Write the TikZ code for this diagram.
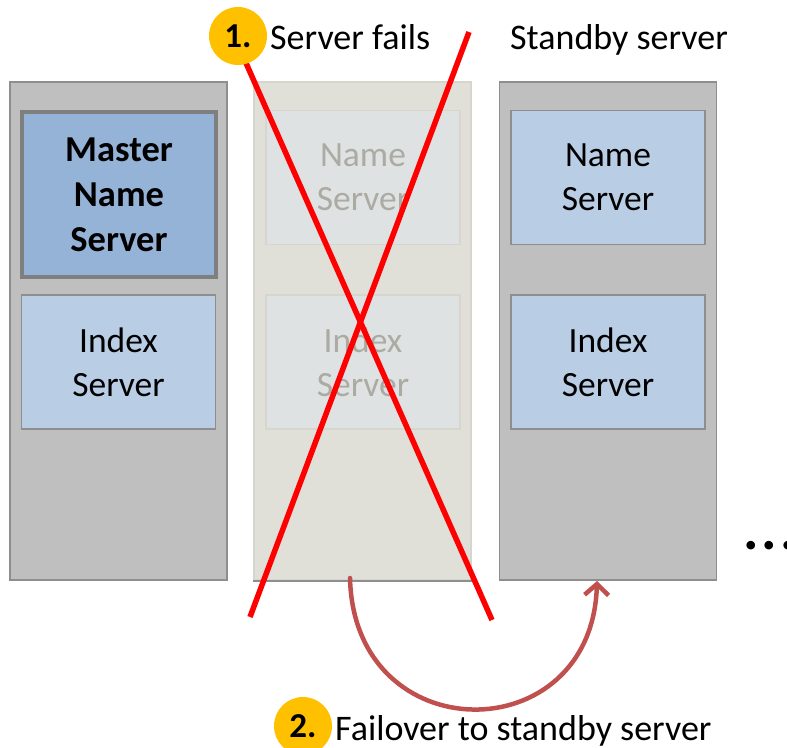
\documentclass[tikz,border=0pt]{standalone}
\usepackage{fontspec}
\setmainfont{Carlito}
\usetikzlibrary{arrows.meta}
\definecolor{colgray}{HTML}{BFBFBF}
\definecolor{colborder}{HTML}{8E8E8E}
\definecolor{masterfill}{HTML}{95B3D7}
\definecolor{masterborder}{HTML}{7F7F7F}
\definecolor{boxfill}{HTML}{B9CDE5}
\definecolor{deadcol}{HTML}{E0E0D9}
\definecolor{deadborder}{HTML}{D6D6CE}
\definecolor{deadbox}{HTML}{DEE2E2}
\definecolor{deadtext}{HTML}{ABABA3}
\definecolor{failred}{HTML}{FF0000}
\definecolor{arrowred}{HTML}{C0504D}
\definecolor{badge}{HTML}{FFC000}
\tikzset{
  column/.style={draw=colborder, fill=colgray, line width=1.5pt, minimum width=217pt, minimum height=498pt, inner sep=0pt},
  deadcolumn/.style={draw=deadborder, fill=deadcol, line width=1.5pt, minimum width=217pt, minimum height=498pt, inner sep=0pt},
  srvbox/.style={draw=colborder, fill=boxfill, line width=1.5pt, minimum width=194pt, minimum height=134pt, inner sep=0pt, align=center, font=\fontsize{35.5}{44}\selectfont},
  masterbox/.style={srvbox, draw=masterborder, fill=masterfill, line width=3.5pt, minimum height=165pt, font=\fontsize{36.5}{45}\selectfont\bfseries},
  deadbox/.style={srvbox, draw=deadborder, fill=deadbox, text=deadtext},
  cross/.style={draw=failred, line width=5.5pt},
  badgecircle/.style={circle, fill=badge, minimum size=58pt, inner sep=0pt, font=\fontsize{35}{40}\selectfont\bfseries},
  label/.style={anchor=base west, inner sep=0pt, font=\fontsize{36}{42}\selectfont},
  failarrow/.style={draw=arrowred, line width=4.5pt, line cap=round, -{Straight Barb[length=11pt,width=24pt,line width=4.5pt]}}
}
\begin{document}
\begin{tikzpicture}[x=1pt,y=-1pt]
\useasboundingbox (0,0) rectangle (787,747);
% columns
\node[column] (colL) at (118.5,331) {};
\node[deadcolumn] (colM) at (362.5,331) {};
\node[column] (colR) at (608,331) {};
\draw[colborder, line width=2pt] (colM.south west) -- (colM.south east);
% boxes
\node[masterbox] (master) at (119,194.5) {Master\\Name\\Server};
\node[srvbox] (indexL) at (118.5,362) {Index\\Server};
\node[deadbox] (nameM) at (363,177.5) {Name\\Server};
\node[deadbox] (indexM) at (363,362) {Index\\Server};
\node[srvbox] (nameR) at (608,177.5) {Name\\Server};
\node[srvbox] (indexR) at (608,362) {Index\\Server};
% cross
\coordinate (c1a) at (246,63);
\coordinate (c1b) at (492,620);
\coordinate (c2a) at (469,32);
\coordinate (c2b) at (250,617);
\draw[cross] (c1a) -- (c1b);
\draw[cross] (c2a) -- (c2b);
% labels
\node[badgecircle] (b1) at (238,36) {1.};
\node[label] (fails) at (270,49) {Server fails};
\node[label] (standby) at (510,49) {Standby server};
% failover arrow
\coordinate (arrS) at (350,578);
\coordinate (arrE) at (597,581);
\draw[failarrow] (arrS) .. controls (354,752) and (592,752) .. (arrE);
\node[badgecircle] (b2) at (303,726) {2.};
\node[label] (failover) at (335,740) {Failover to standby server};
\node[anchor=base west, inner sep=0pt, font=\fontsize{58}{60}\selectfont\bfseries] (dots) at (743,549) {.\hspace{3pt}.\hspace{3pt}.};
\end{tikzpicture}
\end{document}
